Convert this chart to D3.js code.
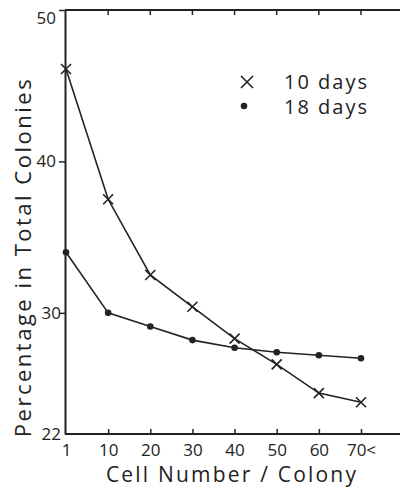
<!DOCTYPE html>
<html lang="en">

<head>
    <script src="https://d3js.org/d3.v7.min.js"></script>
    <meta charset="utf-8" />
    <style>
        body { margin: 0; background: #fff; }
        text { font-family: "Open Sans", "DejaVu Sans", sans-serif; fill: #222; }
    </style>
</head>

<body>
    <script>

        const w = 400;
        const h = 487;

        // chart data
        const cellNumbers = ["1", "10", "20", "30", "40", "50", "60", "70<"];
        const days10 = [46.1, 37.5, 32.5, 30.4, 28.3, 26.6, 24.7, 24.1];
        const days18 = [34.0, 30.0, 29.1, 28.2, 27.7, 27.4, 27.2, 27.0];
        const yTicks = [22, 30, 40, 50];

        const ink = "#222";

        const xScale = d3.scalePoint()
            .domain(cellNumbers)
            .range([66, 361]);

        const yScale = d3.scaleLinear()
            .domain([22, 50])
            .range([434, 10]);

        const svg = d3.select("body")
            .append("svg")
            .attr("width", w)
            .attr("height", h);

        // frame: top and bottom run to the right edge, no right border
        svg.append("line")
            .attr("x1", 65).attr("x2", w)
            .attr("y1", yScale(50)).attr("y2", yScale(50))
            .attr("stroke", ink).attr("stroke-width", 2);

        // top ticks pointing inward
        svg.append("g")
            .selectAll("line")
            .data(cellNumbers.slice(1))
            .join("line")
            .attr("x1", d => xScale(d)).attr("x2", d => xScale(d))
            .attr("y1", yScale(50)).attr("y2", yScale(50) + 5)
            .attr("stroke", ink).attr("stroke-width", 1.5);

        const xAxis = d3.axisTop(xScale).tickSize(5).tickSizeOuter(0);
        const gx = svg.append("g")
            .attr("transform", "translate(0," + yScale(22) + ")")
            .call(xAxis);
        gx.select(".domain").attr("d", "M65,0H" + w).attr("stroke", ink).attr("stroke-width", 2);
        gx.selectAll(".tick line").attr("stroke", ink).attr("stroke-width", 1.5)
            .filter(d => d === "1").remove();
        gx.selectAll(".tick text")
            .attr("y", 22)
            .attr("dy", 0)
            .style("font-size", "17px")
            .attr("fill", ink);

        const yAxis = d3.axisLeft(yScale).tickValues(yTicks).tickSize(6).tickSizeOuter(0);
        const gy = svg.append("g")
            .attr("transform", "translate(65,0)")
            .call(yAxis);
        gy.select(".domain").attr("stroke", ink).attr("stroke-width", 2);
        gy.selectAll(".tick line").attr("stroke", ink).attr("stroke-width", 1.5)
            .filter(d => d === 22).remove();
        gy.selectAll(".tick text")
            .attr("x", d => d === 22 || d === 30 ? -4 : -9)
            .attr("y", d => d === 50 ? 8 : 0)
            .style("font-size", "17px")
            .attr("fill", ink);

        // lines
        const line = d3.line()
            .x((d, i) => xScale(cellNumbers[i]))
            .y(d => yScale(d));

        svg.append("path")
            .datum(days10)
            .attr("d", line)
            .attr("fill", "none")
            .attr("stroke", ink)
            .attr("stroke-width", 1.6);

        svg.append("path")
            .datum(days18)
            .attr("d", line)
            .attr("fill", "none")
            .attr("stroke", ink)
            .attr("stroke-width", 1.6);

        const cross = (g, x, y, s) => {
            g.append("path")
                .attr("d", `M${x - s},${y - s}L${x + s},${y + s}M${x - s},${y + s}L${x + s},${y - s}`)
                .attr("stroke", ink)
                .attr("stroke-width", 1.6)
                .attr("fill", "none");
        };

        const marks10 = svg.append("g");
        days10.forEach((d, i) => cross(marks10, xScale(cellNumbers[i]), yScale(d), 5));

        svg.append("g")
            .selectAll("circle")
            .data(days18)
            .join("circle")
            .attr("cx", (d, i) => xScale(cellNumbers[i]))
            .attr("cy", d => yScale(d))
            .attr("r", 3.3)
            .attr("fill", ink);

        // legend
        cross(svg, 247, 82, 6);
        svg.append("circle").attr("cx", 244).attr("cy", 106).attr("r", 3.3).attr("fill", ink);
        svg.append("text").attr("x", 284).attr("y", 89)
            .style("font-size", "20px").style("letter-spacing", "2px").text("10  days");
        svg.append("text").attr("x", 284).attr("y", 114)
            .style("font-size", "20px").style("letter-spacing", "2px").text("18  days");

        // axis titles
        svg.append("text")
            .attr("x", 232)
            .attr("y", 482)
            .attr("text-anchor", "middle")
            .style("font-size", "21px")
            .style("letter-spacing", "2.2px")
            .text("Cell Number / Colony");

        svg.append("text")
            .attr("transform", "translate(31," + 257 + ") rotate(-90)")
            .attr("text-anchor", "middle")
            .style("font-size", "22px")
            .style("letter-spacing", "2.5px")
            .text("Percentage in   Total Colonies");

    </script>
</body>

</html>
